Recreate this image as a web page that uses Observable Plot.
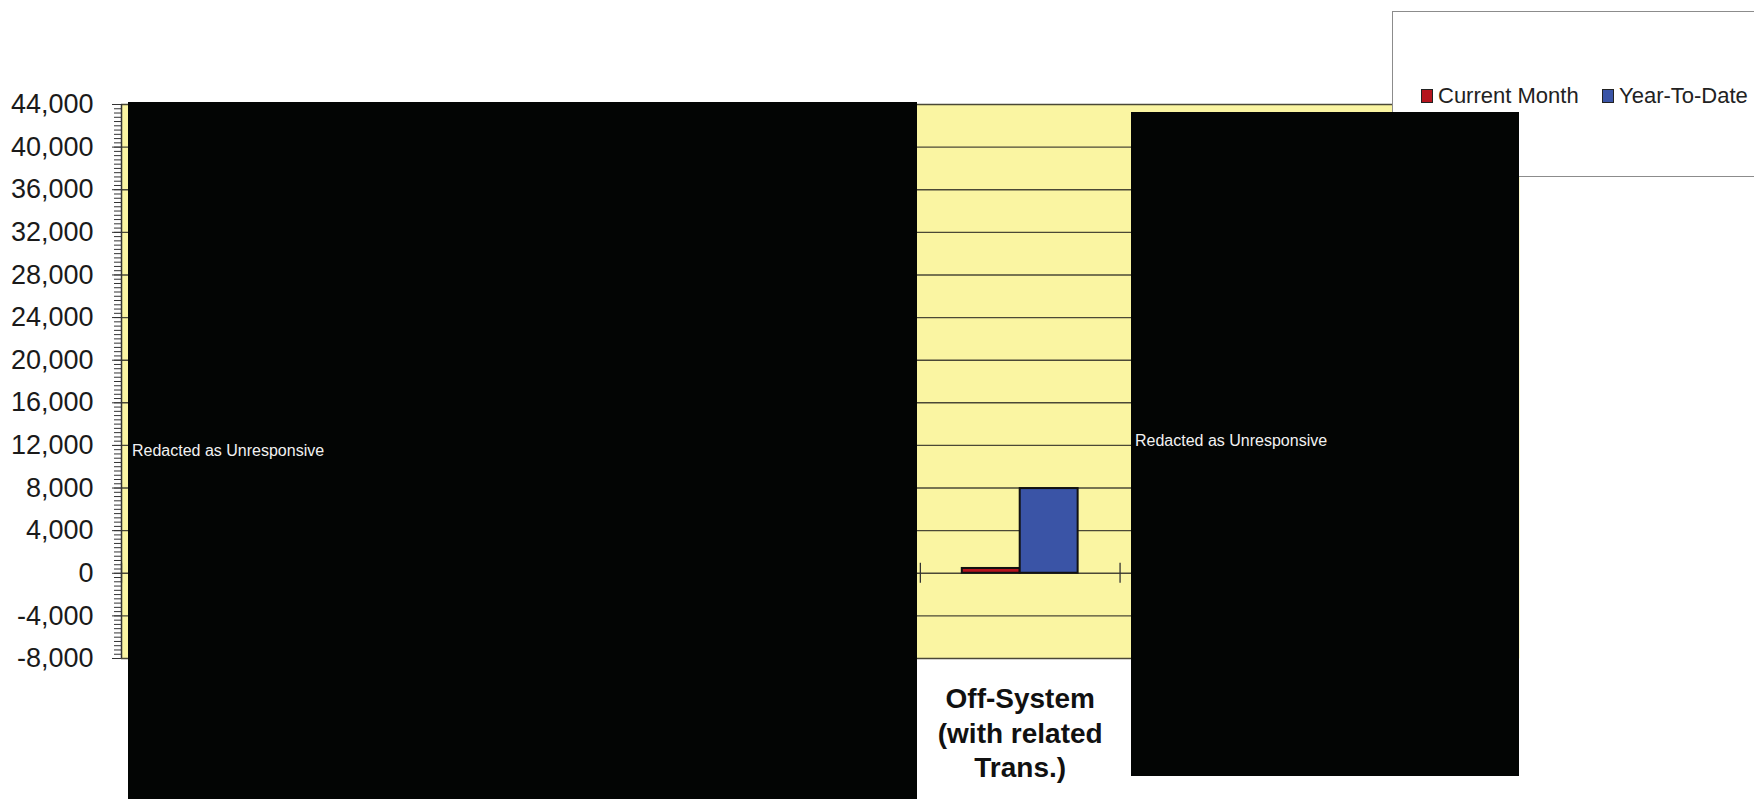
<!DOCTYPE html>
<html>
<head>
<meta charset="utf-8">
<script src="https://cdn.jsdelivr.net/npm/d3@7"></script>
<script src="https://cdn.jsdelivr.net/npm/@observablehq/plot@0.6"></script>
<style>
  html, body { margin: 0; padding: 0; background: #fff; }
  #wrap { position: relative; width: 1754px; height: 799px; overflow: hidden; font-family: "Liberation Sans", Arial, sans-serif; }
  #chart svg { display: block; }
  .legend { position: absolute; left: 1392px; top: 11px; width: 420px; height: 166px; background: #fff; border: 1.5px solid #8c8c8c; box-sizing: border-box; }
  .legend .item { position: absolute; top: 71px; display: flex; align-items: center; font-size: 22px; color: #222; white-space: nowrap; }
  .legend .sw { width: 12px; height: 14px; border: 1.5px solid #222; margin-right: 5px; box-sizing: border-box; }
  .redact { position: absolute; background: #030504; color: #f2f2f2; font-size: 16px; }
  .redact span { position: absolute; left: 4px; }
</style>
</head>
<body>
<div id="wrap">
  <div id="chart"></div>
</div>
<script>
// ---- data ----
const categories = ["(redacted 1)", "(redacted 2)", "(redacted 3)", "(redacted 4)", "Off-System (with related Trans.)", "(redacted 5)", "(redacted 6)"];
const categoryLabels = ["", "", "", "", "Off-System\n(with related\nTrans.)", "", ""];
const seriesNames = ["Current Month", "Year-To-Date"];
const seriesColors = ["#B5141D", "#3A54A6"];
const currentMonth = [null, null, null, null, 450, null, null];
const yearToDate = [null, null, null, null, 7950, null, null];
const yTicks = [-8000, -4000, 0, 4000, 8000, 12000, 16000, 20000, 24000, 28000, 32000, 36000, 40000, 44000];
const yMinorStep = 400;
const redactionText = "Redacted as Unresponsive";

// ---- layout ----
const W = 1754, H = 799;
const ML = 121, MR = 235, MT = 104, MB = 141;
const bw = (W - ML - MR) / categories.length;
const barW = bw * 0.29;

const rows = categories.map((c, i) => ({category: c, label: categoryLabels[i], current: currentMonth[i], ytd: yearToDate[i]}));
const barRows = rows.filter(r => r.current != null || r.ytd != null);
const minorTicks = d3.range(yTicks[0], yTicks[yTicks.length - 1] + 1, yMinorStep);
const fmt = d => d3.format(",")(d).replace("\u2212", "-");

const chart = Plot.plot({
  width: W,
  height: H,
  marginLeft: ML,
  marginRight: MR,
  marginTop: MT,
  marginBottom: MB,
  style: {background: "transparent", fontFamily: "'Liberation Sans', Arial, sans-serif", color: "#222"},
  x: {domain: categories, padding: 0, round: false, axis: null},
  y: {domain: [yTicks[0], yTicks[yTicks.length - 1]], axis: null},
  marks: [
    Plot.frame({fill: "#FAF5A2", stroke: null}),
    Plot.ruleY(yTicks, {stroke: "#4a4836", strokeWidth: 1.4}),
    Plot.barY(barRows, {x: "category", y: "current", fill: seriesColors[0], stroke: "#111", strokeWidth: 2,
      insetLeft: bw / 2 - barW, insetRight: bw / 2}),
    Plot.barY(barRows, {x: "category", y: "ytd", fill: seriesColors[1], stroke: "#111", strokeWidth: 2,
      insetLeft: bw / 2, insetRight: bw / 2 - barW}),
    // category boundary ticks crossing the zero line
    Plot.ruleX(categories, {x: d => d, y1: () => 0, y2: () => 0, insetTop: -10, insetBottom: -10, dx: -bw / 2, stroke: "#333", strokeWidth: 1.3}),
    // y axis line
    Plot.ruleX(categories.slice(0, 1), {x: d => d, dx: -bw / 2, stroke: "#333", strokeWidth: 1.5}),
    Plot.axisY(minorTicks, {tickSize: 7, tickFormat: () => "", label: null, stroke: "#333"}),
    Plot.axisY(yTicks, {tickSize: 9, tickPadding: 19, tickFormat: fmt, label: null, fontSize: 27, stroke: "#333", fill: "#1a1a1a"}),
    Plot.text(rows, {x: "category", text: "label", frameAnchor: "bottom", dy: 73, lineAnchor: "middle", lineHeight: 1.24,
      fontSize: 28, fontWeight: "bold", fill: "#111"})
  ]
});
document.getElementById("chart").appendChild(chart);

const wrap = document.getElementById("wrap");

// legend
const legend = document.createElement("div");
legend.className = "legend";
const legendX = [28, 209];
seriesNames.forEach((name, i) => {
  const item = document.createElement("div");
  item.className = "item";
  item.style.left = legendX[i] + "px";
  const sw = document.createElement("div");
  sw.className = "sw";
  sw.style.background = seriesColors[i];
  const t = document.createElement("span");
  t.textContent = name;
  item.appendChild(sw);
  item.appendChild(t);
  legend.appendChild(item);
});
wrap.appendChild(legend);

// redaction boxes
const boxes = [
  {left: 128, top: 102, width: 789, height: 720, textTop: 340},
  {left: 1131, top: 112, width: 388, height: 664, textTop: 320}
];
boxes.forEach(b => {
  const d = document.createElement("div");
  d.className = "redact";
  Object.assign(d.style, {left: b.left + "px", top: b.top + "px", width: b.width + "px", height: b.height + "px"});
  const s = document.createElement("span");
  s.style.top = b.textTop + "px";
  s.textContent = redactionText;
  d.appendChild(s);
  wrap.appendChild(d);
});
</script>
</body>
</html>
